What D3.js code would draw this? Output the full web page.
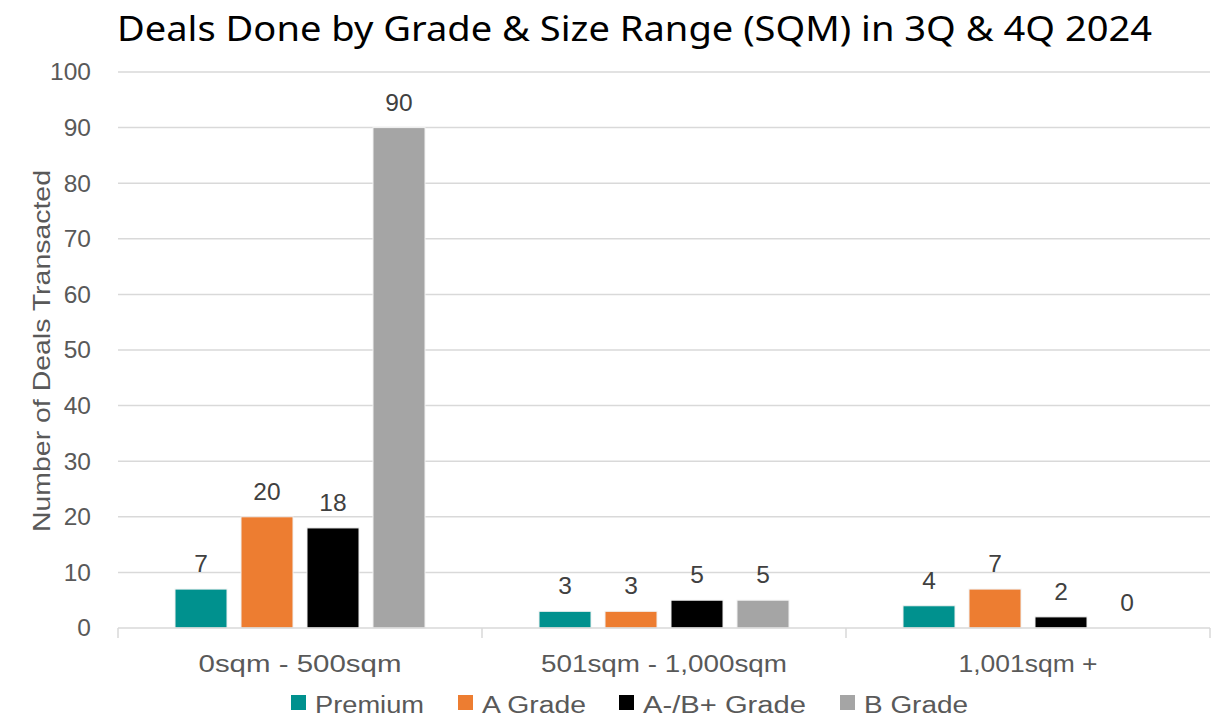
<!DOCTYPE html>
<html>
<head>
<meta charset="utf-8">
<script src="https://cdn.jsdelivr.net/npm/d3@7"></script>
<style>
  html, body { margin: 0; padding: 0; background: #ffffff; }
  svg { display: block; }
</style>
</head>
<body>
<svg id="chart" width="1220" height="718"></svg>
<script>
// Size ranges on the x axis
const categories = ["0sqm - 500sqm", "501sqm - 1,000sqm", "1,001sqm +"];
// Building grades (one bar per grade in each size range)
const grades = ["Premium", "A Grade", "A-/B+ Grade", "B Grade"];
const gradeColors = ["#00918E", "#ED7D31", "#000000", "#A5A5A5"];
// Deals per grade, listed by size range
const premium = [7, 3, 4];
const aGrade = [20, 3, 7];
const aMinusBPlus = [18, 5, 2];
const bGrade = [90, 5, 0];
const yTicks = [0, 10, 20, 30, 40, 50, 60, 70, 80, 90, 100];

const series = [premium, aGrade, aMinusBPlus, bGrade];

const svg = d3.select("#chart");
const x0 = 118, x1 = 1210, yBase = 628, yTop = 72;

const x = d3.scaleBand().domain(categories).range([x0, x1]).paddingInner(0).paddingOuter(0);
const xs = d3.scaleBand().domain(grades).range([57, x.bandwidth() - 57]).paddingInner(0.212).paddingOuter(0);
const y = d3.scaleLinear().domain([0, 100]).range([yBase, yTop]);

const axisFont = "'Liberation Sans', Arial, sans-serif";

// Title
svg.append("text")
  .attr("x", 117).attr("y", 41)
  .attr("font-family", "'Noto Sans', 'DejaVu Sans', sans-serif")
  .attr("font-size", 35)
  .attr("fill", "#000000")
  .attr("textLength", 1035)
  .attr("lengthAdjust", "spacingAndGlyphs")
  .text("Deals Done by Grade & Size Range (SQM) in 3Q & 4Q 2024");

// Horizontal gridlines
svg.append("g").selectAll("line")
  .data(yTicks.filter(d => d > 0))
  .join("line")
  .attr("x1", x0).attr("x2", x1)
  .attr("y1", d => y(d)).attr("y2", d => y(d))
  .attr("stroke", "#d9d9d9").attr("stroke-width", 1.5);

// Y axis tick labels
const yAxis = d3.axisLeft(y).tickValues(yTicks).tickSize(0).tickPadding(27);
const gy = svg.append("g").attr("transform", `translate(${x0},0)`).call(yAxis);
gy.select(".domain").remove();
gy.selectAll("text")
  .attr("font-family", axisFont).attr("font-size", 24.5).attr("fill", "#595959");

// Y axis title
svg.append("text")
  .attr("transform", `translate(50,351) rotate(-90)`)
  .attr("text-anchor", "middle")
  .attr("font-family", axisFont).attr("font-size", 24.5).attr("fill", "#595959")
  .attr("textLength", 362)
  .attr("lengthAdjust", "spacingAndGlyphs")
  .text("Number of Deals Transacted");

// Bars and value labels
const groups = svg.append("g").selectAll("g")
  .data(categories)
  .join("g")
  .attr("transform", d => `translate(${x(d)},0)`);

groups.each(function(cat, ci) {
  const g = d3.select(this);
  grades.forEach((gr, gi) => {
    const v = series[gi][ci];
    if (v > 0) {
      g.append("rect")
        .attr("x", xs(gr)).attr("width", xs.bandwidth())
        .attr("y", y(v)).attr("height", y(0) - y(v))
        .attr("fill", gradeColors[gi])
        .attr("stroke", "#f2f2f2").attr("stroke-width", 1);
    }
    g.append("text")
      .attr("x", xs(gr) + xs.bandwidth() / 2)
      .attr("y", y(v) - 17)
      .attr("text-anchor", "middle")
      .attr("font-family", axisFont).attr("font-size", 24.5).attr("fill", "#404040")
      .text(v);
  });
});

// X axis line, category labels and boundary ticks
const catWidths = [203, 246, 139];
const xAxis = d3.axisBottom(x).tickSize(0).tickPadding(28);
const gx = svg.append("g").attr("transform", `translate(0,${yBase})`).call(xAxis);
gx.select(".domain").attr("stroke", "#d9d9d9").attr("stroke-width", 1.5)
  .attr("d", `M${x0},0H${x1}`);
gx.selectAll("text")
  .attr("font-family", axisFont).attr("font-size", 23).attr("fill", "#595959")
  .attr("textLength", (d, i) => catWidths[i])
  .attr("lengthAdjust", "spacingAndGlyphs");
svg.append("g").selectAll("line")
  .data(categories.map(c => x(c)).concat([x1]))
  .join("line")
  .attr("x1", d => d).attr("x2", d => d)
  .attr("y1", yBase).attr("y2", yBase + 10)
  .attr("stroke", "#d9d9d9").attr("stroke-width", 1.5);

// Legend
const legendX = [291, 458, 619, 840];
const legendWidths = [109, 104, 163, 104];
const legend = svg.append("g").selectAll("g")
  .data(grades)
  .join("g")
  .attr("transform", (d, i) => `translate(${legendX[i]},695)`);
legend.append("rect")
  .attr("width", 15).attr("height", 15)
  .attr("fill", (d, i) => gradeColors[i]);
legend.append("text")
  .attr("x", 24).attr("y", 18)
  .attr("font-family", axisFont).attr("font-size", 23.5).attr("fill", "#595959")
  .attr("textLength", (d, i) => legendWidths[i])
  .attr("lengthAdjust", "spacingAndGlyphs")
  .text(d => d);
</script>
</body>
</html>
